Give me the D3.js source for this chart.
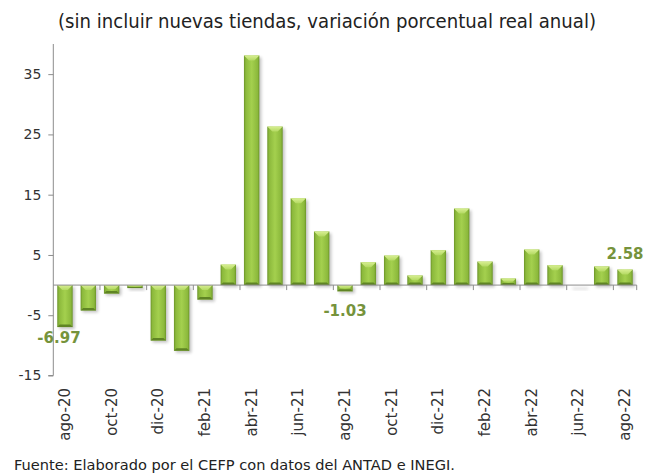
<!DOCTYPE html>
<html><head><meta charset="utf-8">
<script src="https://cdn.jsdelivr.net/npm/d3@7"></script>
<style>body{margin:0;background:#fff}svg{display:block}</style>
</head><body>
<svg id="c" width="652" height="473"></svg>
<script>
const months = ["ago-20","sep-20","oct-20","nov-20","dic-20","ene-21","feb-21","mar-21","abr-21","may-21","jun-21","jul-21","ago-21","sep-21","oct-21","nov-21","dic-21","ene-22","feb-22","mar-22","abr-22","may-22","jun-22","jul-22","ago-22"];
const values = [-6.97,-4.2,-1.4,-0.5,-9.2,-10.9,-2.4,3.4,38.1,26.3,14.4,8.9,-1.03,3.8,4.9,1.6,5.8,12.7,3.9,1.1,5.9,3.3,0.0,3.1,2.58];
const yTicks = [-15,-5,5,15,25,35];
const labelled = ["ago-20","ago-21","ago-22"];
const title = "(sin incluir nuevas tiendas, variación porcentual real anual)";
const source = "Fuente: Elaborado por el CEFP con datos del ANTAD e INEGI.";

const svg = d3.select("#c");
const FONT = "'DejaVu Sans', sans-serif";
const hy = s => String(s).replace("\u2212","-");
const x = d3.scaleBand().domain(months).range([53.3, 636.7]).paddingInner(0.34).paddingOuter(0.17);
const y = d3.scaleLinear().domain([-15, 40]).range([375.5, 44]);

const defs = svg.append("defs");
const g1 = defs.append("linearGradient").attr("id","body").attr("x1","0").attr("x2","1").attr("y1","0").attr("y2","0");
[[0,"#6b9428"],[0.12,"#8cb93c"],[0.5,"#a4d04e"],[0.88,"#8cb93c"],[1,"#6b9428"]].forEach(s=>g1.append("stop").attr("offset",s[0]).attr("stop-color",s[1]));
const g2 = defs.append("linearGradient").attr("id","bev").attr("x1","0").attr("x2","0").attr("y1","0").attr("y2","1");
[[0,"#d8ef92"],[1,"#b3d962"]].forEach(s=>g2.append("stop").attr("offset",s[0]).attr("stop-color",s[1]));
const f = defs.append("filter").attr("id","sh").attr("x","-30%").attr("y","-30%").attr("width","160%").attr("height","160%");
f.append("feGaussianBlur").attr("stdDeviation",1.5);

// title
svg.append("text").attr("x", 327).attr("y", 28).attr("text-anchor","middle")
  .attr("font-family", FONT).attr("font-size", 19).attr("fill","#222")
  .attr("textLength", 538).attr("lengthAdjust","spacingAndGlyphs").text(title);

// y axis
const yAxis = svg.append("g").attr("transform","translate(53.3,0)")
  .call(d3.axisLeft(y).tickValues(yTicks).tickSize(5).tickPadding(7).tickFormat(d => hy(d3.format("d")(d))));
yAxis.select(".domain").attr("stroke","#8c8c8c").attr("d", `M-5,${y(-15)}H0V${y(40)}`);
yAxis.selectAll(".tick line").attr("stroke","#8c8c8c");
yAxis.selectAll(".tick text").attr("font-family",FONT).attr("font-size",14).attr("fill","#333");

// bars
const bars = svg.append("g");
const bw = x.bandwidth();
months.forEach((m,i)=>{
  const v = values[i];
  const x0 = x(m), x1 = x0 + bw;
  const yt = y(Math.max(0,v)), yb = y(Math.min(0,v));
  const h = yb - yt;
  if (h < 0.5) {
    bars.append("rect").attr("x",x0+2).attr("y",y(0)+2).attr("width",bw).attr("height",3)
      .attr("fill","#999").attr("opacity",0.25).attr("filter","url(#sh)");
    return;
  }
  bars.append("rect").attr("x",x0+2).attr("y",yt+2).attr("width",bw).attr("height",h)
    .attr("fill","#555").attr("opacity",0.35).attr("filter","url(#sh)");
  bars.append("rect").attr("x",x0).attr("y",yt).attr("width",bw).attr("height",h).attr("fill","url(#body)");
  const b = Math.min(5, h/2);
  bars.append("path").attr("d",`M${x0},${yt}H${x1}L${x1-b},${yt+b}H${x0+b}Z`).attr("fill","url(#bev)");
  const d = Math.min(2.5, h/3);
  bars.append("path").attr("d",`M${x0},${yb}H${x1}L${x1-d},${yb-d}H${x0+d}Z`).attr("fill","#5f8424");
});

// x axis at zero
const xAxisG = svg.append("g");
xAxisG.append("line").attr("x1",53.3).attr("x2",636.7).attr("y1",y(0)).attr("y2",y(0)).attr("stroke","#8c8c8c");
months.forEach((m,i)=>{
  if (i>0 && i%2===0) {
    const xt = x(m) - x.step()*x.paddingInner()/2;
    xAxisG.append("line").attr("x1",xt).attr("x2",xt).attr("y1",y(0)).attr("y2",y(0)+5).attr("stroke","#8c8c8c");
  }
});
xAxisG.append("line").attr("x1",636.7).attr("x2",636.7).attr("y1",y(0)).attr("y2",y(0)+5).attr("stroke","#8c8c8c");

// x labels
months.forEach((m,i)=>{
  if (i%2!==0) return;
  const cx = x(m) + bw/2;
  svg.append("text").attr("transform",`translate(${cx+5},388) rotate(-90)`)
    .attr("text-anchor","end").attr("font-family",FONT).attr("font-size",15).attr("fill","#333").text(m);
});

// data labels
const lab = svg.append("g").attr("font-family",FONT).attr("font-weight","bold").attr("font-size",15).attr("fill","#76933c").attr("text-anchor","middle");
labelled.forEach(m=>{
  const i = months.indexOf(m), v = values[i];
  const cx = x(m) + bw/2;
  const dx = i===0 ? -6 : 0;
  const yy = v < 0 ? y(v) + 16 + (i===0 ? 0 : 9) : y(v) - 11;
  lab.append("text").attr("x",cx+dx).attr("y",yy).text(hy(d3.format(".2f")(v)));
});

// footer
svg.append("text").attr("x",14).attr("y",470).attr("font-family",FONT).attr("font-size",14).attr("fill","#222")
  .attr("textLength",441).attr("lengthAdjust","spacingAndGlyphs").text(source);
</script>
</body></html>
